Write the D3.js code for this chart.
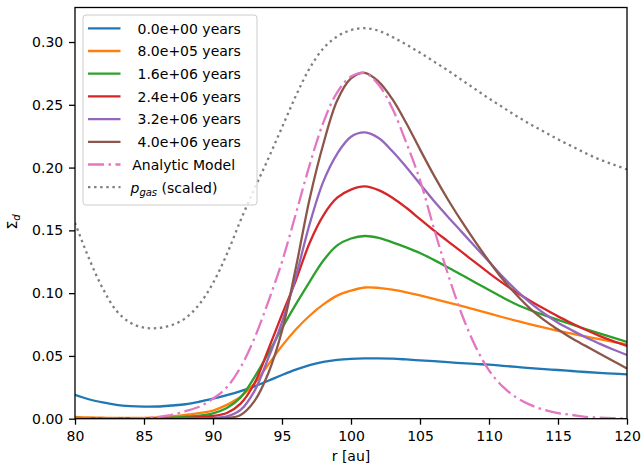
<!DOCTYPE html>
<html>
<head>
<meta charset="utf-8">
<script src="https://cdn.jsdelivr.net/npm/d3@7"></script>
<style>
  html, body { margin: 0; padding: 0; background: #fff; }
  svg { display: block; font-family: "DejaVu Sans", sans-serif; }
</style>
</head>
<body>
<svg id="chart" width="641" height="470"></svg>
<script>
// Radial grid (au)
const radius = d3.range(80, 121);

// Dust surface density profiles at successive times
const sigma0 = [0.019, 0.0155, 0.013, 0.011, 0.010, 0.0096, 0.0097, 0.0105, 0.0115, 0.0135,
  0.016, 0.0188, 0.022, 0.0258, 0.0302, 0.0348, 0.0391, 0.0427, 0.0453, 0.0469,
  0.0477, 0.048, 0.048, 0.0478, 0.0472, 0.0465, 0.0458, 0.045, 0.0443, 0.0436,
  0.043, 0.0421, 0.0412, 0.0403, 0.0395, 0.0388, 0.038, 0.0372, 0.0365, 0.0359, 0.0353];
const sigma1 = [0.0015, 0.001, 0.0008, 0.0006, 0.0006, 0.0007, 0.001, 0.0017, 0.003, 0.0045,
  0.0065, 0.011, 0.0175, 0.028, 0.043, 0.058, 0.071, 0.082, 0.091, 0.098,
  0.102, 0.1045, 0.1042, 0.1028, 0.1007, 0.0982, 0.0955, 0.0927, 0.0898, 0.0868,
  0.0838, 0.0808, 0.0779, 0.0751, 0.0725, 0.070, 0.0677, 0.0655, 0.0633, 0.0612, 0.0592];
const sigma2 = [0.0006, 0.0004, 0.0003, 0.0002, 0.0002, 0.0003, 0.0005, 0.0008, 0.0015, 0.0025,
  0.0043, 0.0085, 0.017, 0.033, 0.052, 0.072, 0.091, 0.109, 0.126, 0.138,
  0.1435, 0.1455, 0.144, 0.1405, 0.1365, 0.132, 0.1265, 0.1207, 0.1146, 0.1085,
  0.1025, 0.0965, 0.091, 0.0865, 0.0825, 0.0787, 0.075, 0.0714, 0.0679, 0.0645, 0.0612];
const sigma3 = [0.0003, 0.0002, 0.0001, 0.0001, 0.0001, 0.0001, 0.0002, 0.0003, 0.0006, 0.0012,
  0.0022, 0.0045, 0.012, 0.028, 0.055, 0.083, 0.110, 0.140, 0.162, 0.176,
  0.1825, 0.185, 0.182, 0.176, 0.168, 0.159, 0.150, 0.1415, 0.133, 0.1245,
  0.116, 0.108, 0.1005, 0.0938, 0.0875, 0.0815, 0.076, 0.0708, 0.066, 0.0618, 0.058];
const sigma4 = [0.0002, 0.0001, 0.0001, 0.0001, 0.0001, 0.0001, 0.0001, 0.0001, 0.0002, 0.0003,
  0.0007, 0.0018, 0.007, 0.022, 0.048, 0.077, 0.113, 0.155, 0.189, 0.211,
  0.2245, 0.228, 0.2235, 0.213, 0.2005, 0.187, 0.1735, 0.161, 0.149, 0.137,
  0.125, 0.113, 0.102, 0.0923, 0.0838, 0.0765, 0.0705, 0.0648, 0.0598, 0.0551, 0.0507];
const sigma5 = [0.0001, 0.0001, 0.0001, 0.0001, 0.0001, 0.0001, 0.0001, 0.0001, 0.0001, 0.0001,
  0.0002, 0.0005, 0.003, 0.014, 0.036, 0.070, 0.120, 0.175, 0.219, 0.2535,
  0.271, 0.2755, 0.2685, 0.2545, 0.2355, 0.2145, 0.194, 0.175, 0.1575, 0.141,
  0.1255, 0.111, 0.0985, 0.0875, 0.0785, 0.071, 0.064, 0.058, 0.052, 0.046, 0.040];

// Analytic steady-state ring
const analytic = [0, 0, 0, 0.0001, 0.0002, 0.0005, 0.0015, 0.003, 0.006, 0.0095,
  0.016, 0.025, 0.041, 0.064, 0.093, 0.125, 0.163, 0.202, 0.236, 0.260,
  0.2725, 0.2752, 0.266, 0.247, 0.220, 0.190, 0.152, 0.116, 0.084, 0.058,
  0.0385, 0.0255, 0.0168, 0.011, 0.007, 0.0045, 0.003, 0.0015, 0.0008, 0.0004, 0.0002];

// Gas pressure, rescaled to the dust plot
const pgas = [0.156, 0.128, 0.104, 0.086, 0.0765, 0.0725, 0.0722, 0.0745, 0.080, 0.091,
  0.108, 0.131, 0.158, 0.183, 0.207, 0.232, 0.257, 0.279, 0.295, 0.3045,
  0.3095, 0.311, 0.309, 0.304, 0.298, 0.2915, 0.2845, 0.2775, 0.270, 0.2625,
  0.255, 0.248, 0.241, 0.2345, 0.2285, 0.2225, 0.217, 0.2115, 0.2065, 0.2025, 0.1985];

const timeLabels = ["0.0e+00 years", "8.0e+05 years", "1.6e+06 years",
  "2.4e+06 years", "3.2e+06 years", "4.0e+06 years"];
const timeColors = ["#1f77b4", "#ff7f0e", "#2ca02c", "#d62728", "#9467bd", "#8c564b"];

const xTicks = [80, 85, 90, 95, 100, 105, 110, 115, 120];
const yTicks = [0, 0.05, 0.10, 0.15, 0.20, 0.25, 0.30];

const svg = d3.select("#chart");
const mLeft = 75, mRight = 627, mTop = 7.5, mBottom = 418.7;

const x = d3.scaleLinear().domain([80, 120]).range([mLeft, mRight]);
const y = d3.scaleLinear().domain([0, 0.3275]).range([mBottom, mTop]);

const line = d3.line()
  .x((d, i) => x(radius[i]))
  .y(d => y(d))
  .curve(d3.curveCatmullRom.alpha(0.5));

const plot = svg.append("g");
plot.append("clipPath").attr("id", "clip")
  .append("rect").attr("x", mLeft).attr("y", mTop)
  .attr("width", mRight - mLeft).attr("height", mBottom - mTop);

const curves = plot.append("g").attr("clip-path", "url(#clip)");
const lw = 2.3;

[sigma0, sigma1, sigma2, sigma3, sigma4, sigma5].forEach((s, k) => {
  curves.append("path").datum(s)
    .attr("d", line).attr("fill", "none")
    .attr("stroke", timeColors[k]).attr("stroke-width", lw);
});
curves.append("path").datum(analytic)
  .attr("d", line).attr("fill", "none")
  .attr("stroke", "#e377c2").attr("stroke-width", lw)
  .attr("stroke-dasharray", "16,4.5,2.5,4.5");
curves.append("path").datum(pgas)
  .attr("d", line).attr("fill", "none")
  .attr("stroke", "#7f7f7f").attr("stroke-width", lw)
  .attr("stroke-dasharray", "2.4,3.7");

// Axes
const xAxis = d3.axisBottom(x).tickValues(xTicks).tickFormat(d3.format("d"))
  .tickSize(6).tickPadding(6);
const yAxis = d3.axisLeft(y).tickValues(yTicks).tickFormat(d3.format(".2f"))
  .tickSize(6).tickPadding(5.8);

const gx = svg.append("g").attr("transform", `translate(0,${mBottom})`).call(xAxis);
const gy = svg.append("g").attr("transform", `translate(${mLeft},0)`).call(yAxis);
[gx, gy].forEach(g => {
  g.select(".domain").remove();
  g.selectAll(".tick line").attr("stroke", "#000").attr("stroke-width", 1.3);
  g.selectAll(".tick text").attr("fill", "#000")
    .style("font-family", "DejaVu Sans").style("font-size", "14px");
});

svg.append("rect")
  .attr("x", mLeft).attr("y", mTop)
  .attr("width", mRight - mLeft).attr("height", mBottom - mTop)
  .attr("fill", "none").attr("stroke", "#000").attr("stroke-width", 1.3);

// Axis labels
svg.append("text")
  .attr("x", (mLeft + mRight) / 2).attr("y", 461)
  .attr("text-anchor", "middle").style("font-size", "14px")
  .text("r [au]");

const yl = svg.append("text")
  .attr("transform", "translate(17.3,222) rotate(-90)")
  .attr("text-anchor", "middle").style("font-size", "14px");
yl.append("tspan").text("Σ");
yl.append("tspan").attr("dy", 3).style("font-size", "10px").style("font-style", "italic").text("d");

// Legend
const lg = svg.append("g");
lg.append("rect")
  .attr("x", 83).attr("y", 15).attr("width", 174).attr("height", 190)
  .attr("rx", 3).attr("ry", 3)
  .attr("fill", "#fff").attr("fill-opacity", 0.8)
  .attr("stroke", "#cccccc").attr("stroke-width", 1);

const rowY = i => 28.3 + i * 22.7;
timeLabels.forEach((t, i) => {
  lg.append("line")
    .attr("x1", 88).attr("x2", 120.5).attr("y1", rowY(i)).attr("y2", rowY(i))
    .attr("stroke", timeColors[i]).attr("stroke-width", lw);
  lg.append("text")
    .attr("x", 137.5).attr("y", rowY(i) + 5.3)
    .style("font-size", "14px").text(t);
});
lg.append("line")
  .attr("x1", 88).attr("x2", 120.5).attr("y1", rowY(6)).attr("y2", rowY(6))
  .attr("stroke", "#e377c2").attr("stroke-width", lw)
  .attr("stroke-dasharray", "16,4.5,2.5,4.5");
lg.append("text")
  .attr("x", 132.3).attr("y", rowY(6) + 5.3)
  .style("font-size", "14px").text("Analytic Model");
lg.append("line")
  .attr("x1", 88).attr("x2", 120.5).attr("y1", rowY(7)).attr("y2", rowY(7))
  .attr("stroke", "#7f7f7f").attr("stroke-width", lw)
  .attr("stroke-dasharray", "2.4,3.7");
const pl = lg.append("text")
  .attr("x", 130.5).attr("y", rowY(7) + 5.3)
  .style("font-size", "14px");
pl.append("tspan").style("font-style", "italic").text("p");
pl.append("tspan").attr("dy", 3).style("font-style", "italic").style("font-size", "10px").text("gas");
pl.append("tspan").attr("dy", -3).text(" (scaled)");
</script>
</body>
</html>
